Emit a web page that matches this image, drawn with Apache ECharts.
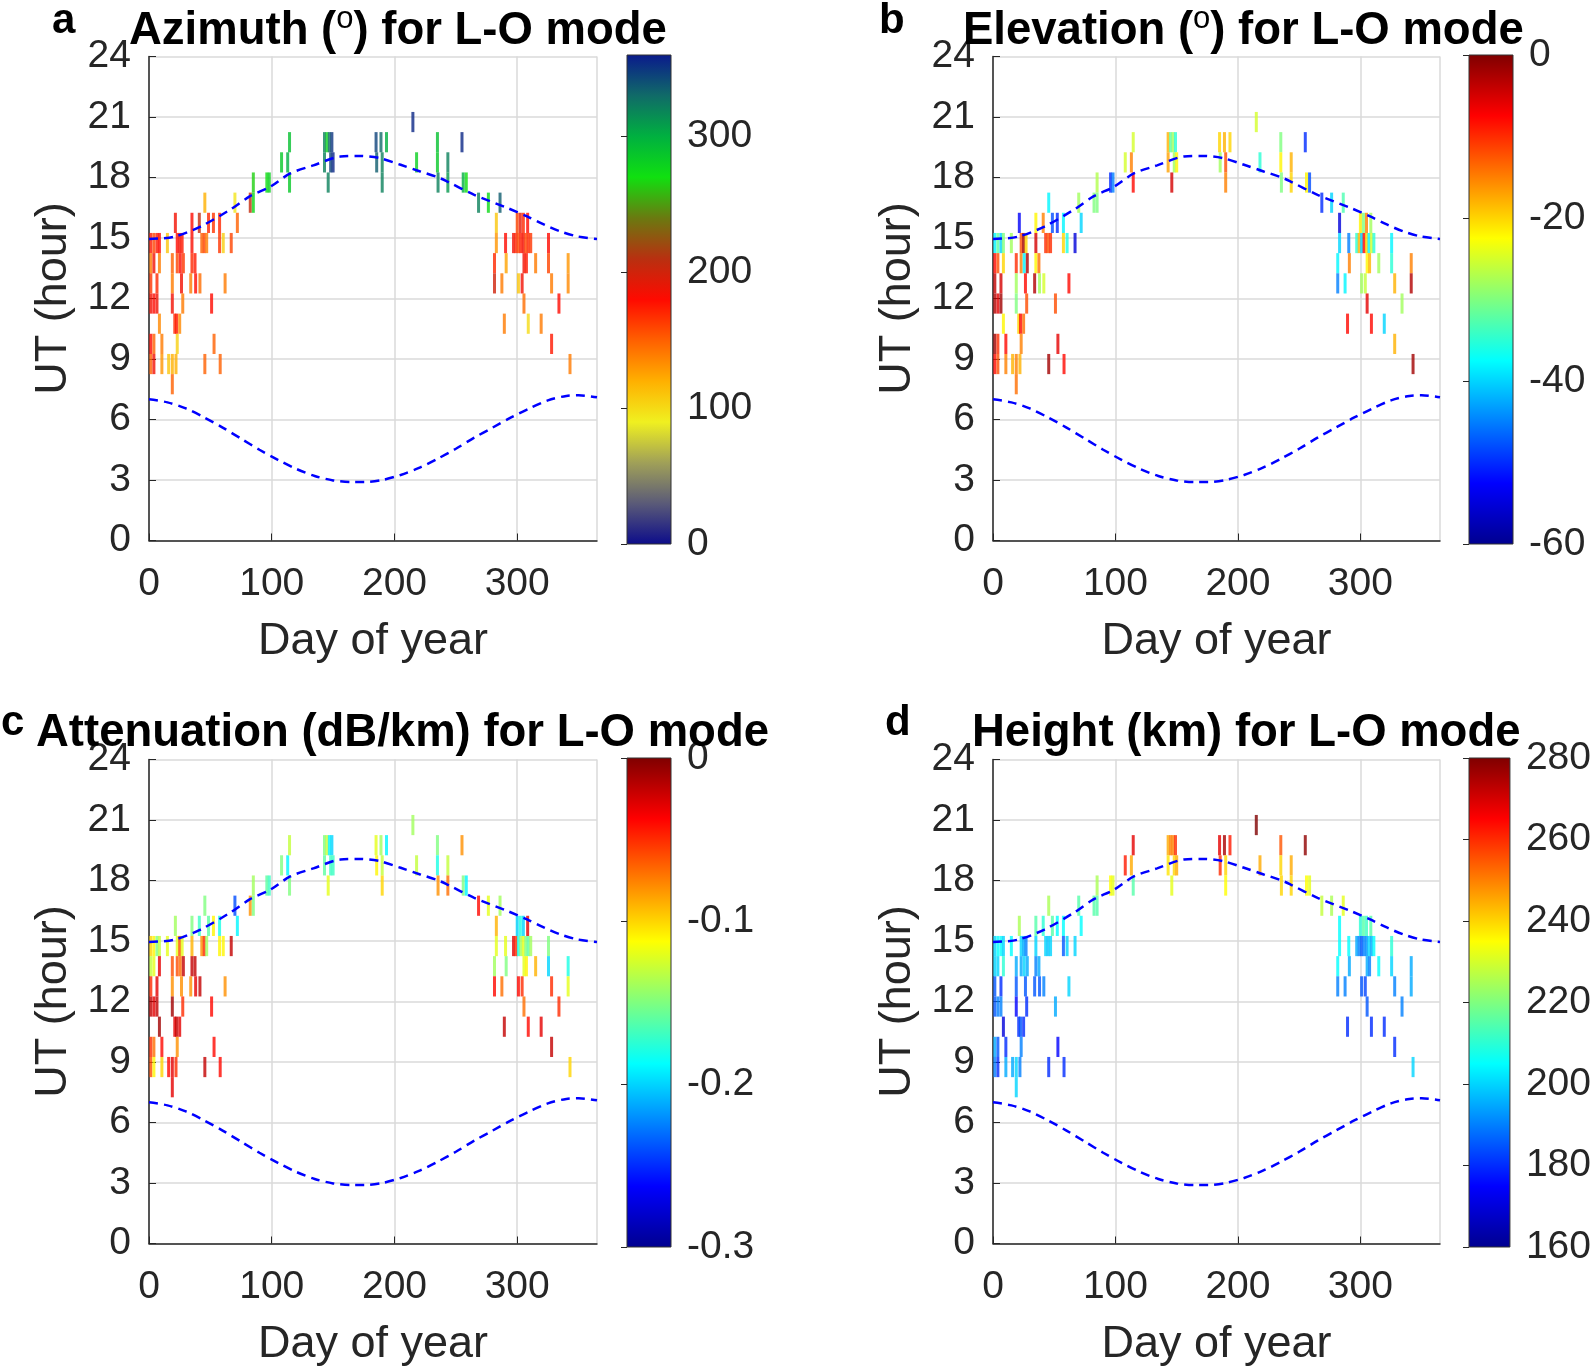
<!DOCTYPE html>
<html><head><meta charset="utf-8">
<script src="https://cdn.jsdelivr.net/npm/echarts/dist/echarts.min.js"></script>
<style>html,body{margin:0;padding:0;background:#fff}#c{width:1594px;height:1370px}</style>
</head><body><div id="c"></div>
<script>
// ---------- data ----------
const xTickValues = [0, 100, 200, 300];
const yTickValues = [0, 3, 6, 9, 12, 15, 18, 21, 24];
// observation cells: day of year and UT hour (cell centre)
const obsDay = [1.5,1.5,1.5,1.5,1.5,1.5, 4,4,4,4,4, 6.5,6.5,6.5, 8.5,8.5,8.5, 10.5,10.5, 15,16,
  19,19,19,19,19, 21,22.5,23,22, 21.5, 23,25,27, 23,25.5,28, 26.5, 27.5, 25,
  35,35,35,34, 37.5,38, 41,41.5, 43,45,47, 45.5,48.5,45.5, 51,52.5,53, 57.5,57.5,58, 60.5,62,67,70,72,
  82.5,85,85,96,98, 108,113,114.5,114.5,
  143,145,147,149,143,148,150,146,
  185,189,193.5,185.5,190,190, 215,218, 235,235,235.5, 243.5,243.5, 255,256,258.5,
  268.5,276.5,286, 283,283,281.5,281.5,287.5,289.5,290.5,291,
  297,299,301,303,305,307,309,311, 300,302.5,305,308.5, 305.5,307.5, 301,304, 305.5, 309,
  315,319.5,325.5,325.5,328,328,334,341.5,341.5,343];
const obsHour = [14.75,13.75,12.75,11.75,9.75,8.75, 14.75,13.75,11.75,9.75,8.75, 14.75,12.75,11.75, 14.75,13.75,10.75, 9.75,8.75, 14.75,8.75,
  13.75,12.75,11.75,8.75,7.75, 10.75,10.75,9.75,8.75, 15.75, 14.75,14.75,14.75, 13.75,13.75,13.75, 12.75, 11.75, 10.75,
  15.75,14.75,13.75,12.75, 13.75,12.75, 15.75,12.75, 14.75,14.75,14.75, 16.75,15.75,8.75, 11.75,15.75,9.75, 15.75,14.75,8.75, 14.75,12.75,14.75,16.75,15.75,
  16.75,17.75,16.75,17.75,17.75, 18.75,18.75,19.75,17.75,
  19.75,19.75,19.75,19.75,18.75,18.75,18.75,17.75,
  19.75,19.75,19.75,18.75,18.75,17.75, 20.75,18.75, 19.75,18.75,17.75, 18.75,17.75, 19.75,17.75,17.75,
  16.75,16.75,16.75, 15.75,14.75,13.75,12.75,12.75,10.75,14.75,13.75,
  14.75,14.75,14.75,14.75,14.75,14.75,14.75,14.75, 15.75,15.75,15.75,15.75, 13.75,13.75, 12.75,12.75, 11.75, 10.75,
  13.75,10.75,14.75,13.75,12.75,9.75,11.75,13.75,12.75,8.75];
const azimuth = [175,140,165,185,180,150, 160,185,180,150,185, 175,170,185, 180,140,135, 140,130, 110,110,
  150,140,185,120,150, 170,175,105,120, 185, 180,185,175, 160,180,165, 185, 140, 135,
  180,182,170,140, 175,180, 205,145, 150,160,140, 120,170,150, 180,165,150, 170,165,150, 105,140,160,95,150,
  205,265,275,272,280, 285,300,290,285,
  320,280,330,350,320,345,355,320,
  345,330,300,335,320,320, 355,280, 290,285,320, 320,310, 355,300,270,
  320,275,335, 110,130,170,200,140,140,180,125,
  185,170,160,175,185,160,170,165, 160,190,170,180, 185,175, 110,185, 145, 100,
  140,140,180,160,140,175,180,130,135,140];
const elevation = [-38,-8,-4,-3,-2,-8, -32,-12,-6,-10,-12, -40,-5,-2, -30,-20,-22, -8,-15, -28,-18,
  -10,-28,-30,-15,-14, -20,-8,-15,-18, -53, -12,-2,-20, -15,-38,-3, -8, -12, -14,
  -22,-5,-22,-3, -14,-28, -15,-25, -10,-12,-10, -38,-48,-2, -12,-50,-6, -38,-20,-8, -36,-8,-55,-28,-40,
  -30,-27,-30,-50,-45, -25,-15,-25,-8,
  -18,-32,-28,-35,-17,-28,-22,-5,
  -20,-18,-20,-28,-12,-15, -25,-35, -30,-22,-30, -18,-20, -50,-22,-48,
  -50,-40,-33, -55,-40,-38,-45,-38,-8,-45,-15,
  -35,-18,-40,-8,-20,-38,-25,-35, -22,-30,-15,-28, -22,-18, -28,-26, -6, -8,
  -28,-40,-38,-35,-18,-18,-28,-15,-3,-2];
const attenuation = [-0.10,-0.13,-0.05,-0.02,-0.05,-0.06, -0.11,-0.12,-0.03,-0.07,-0.11, -0.15,-0.03,-0.02, -0.13,-0.03,-0.01, -0.04,-0.10, -0.12,-0.04,
  -0.06,-0.08,-0.01,-0.03,-0.03, -0.03,-0.02,-0.08,-0.05, -0.14, -0.12,-0.06,-0.12, -0.06,-0.07,-0.02, -0.08, -0.05, -0.03,
  -0.15,-0.09,-0.02,-0.08, -0.02,-0.03, -0.17,-0.02, -0.08,-0.05,-0.14, -0.15,-0.16,-0.02, -0.04,-0.11,-0.04, -0.18,-0.11,-0.04, -0.11,-0.08,-0.02,-0.24,-0.19,
  -0.08,-0.14,-0.15,-0.16,-0.17, -0.15,-0.19,-0.13,-0.15,
  -0.15,-0.13,-0.19,-0.20,-0.16,-0.17,-0.17,-0.12,
  -0.12,-0.14,-0.19,-0.11,-0.13,-0.10, -0.14,-0.13, -0.15,-0.18,-0.08, -0.13,-0.07, -0.08,-0.15,-0.19,
  -0.04,-0.12,-0.14, -0.09,-0.12,-0.14,-0.04,-0.07,-0.02,-0.12,-0.15,
  -0.03,-0.05,-0.18,-0.14,-0.12,-0.15,-0.16,-0.14, -0.20,-0.18,-0.20,-0.03, -0.12,-0.11, -0.04,-0.05, -0.07, -0.04,
  -0.09,-0.03,-0.15,-0.20,-0.05,-0.02,-0.05,-0.18,-0.12,-0.10];
const heightKm = [200,200,185,185,195,190, 205,200,190,185,180, 205,180,190, 200,210,170, 180,195, 205,195,
  195,185,175,200,200, 180,185,190,190, 225, 200,195,190, 195,200,195, 185, 180, 180,
  215,200,190,185, 195,185, 210,190, 200,198,200, 225,215,180, 195,205,175, 205,185,180, 200,200,200,215,205,
  215,225,215,235,232, 262,245,268,215,
  245,250,250,260,238,240,245,232,
  268,275,262,260,240,235, 280,245, 255,240,240, 245,240, 278,235,232,
  228,225,232, 205,205,205,190,190,180,205,195,
  195,190,185,190,192,200,195,205, 210,215,212,215, 195,190, 185,183, 185, 180,
  205,180,210,200,190,180,190,195,195,200];
// dashed boundary curves (hour vs day of year)
const upperCurveDay  = [0, 20, 42, 66, 82, 99, 115, 134, 156, 172, 188, 205, 221, 235, 243, 265, 292, 308, 322, 335, 349, 365];
const upperCurveHour = [14.95, 15.06, 15.57, 16.4, 17.06, 17.55, 18.2, 18.6, 19.04, 19.07, 18.96, 18.63, 18.3, 18.02, 17.8, 17.14, 16.49, 16.07, 15.66, 15.33, 15.08, 14.95];
const lowerCurveDay  = [0, 15, 30, 45, 60, 75, 90, 105, 120, 135, 150, 165, 175, 190, 205, 220, 235, 250, 265, 280, 295, 310, 325, 340, 350, 365];
const lowerCurveHour = [7.0, 6.85, 6.55, 6.1, 5.6, 5.05, 4.5, 4.0, 3.55, 3.2, 2.98, 2.9, 2.9, 3.0, 3.25, 3.6, 4.05, 4.55, 5.1, 5.6, 6.1, 6.55, 6.95, 7.17, 7.2, 7.1];
// colour-bar ranges [min, max, interval]
const cbRange = [[0, 360, 100], [-60, 0, 20], [-0.3, 0, 0.1], [160, 280, 20]];
const panelTitles = [['Azimuth (', ') for L-O mode'], ['Elevation (', ') for L-O mode'], ['Attenuation (dB/km) for L-O mode'], ['Height (km) for L-O mode']];
const panelLetters = ['a', 'b', 'c', 'd'];

// ---------- styling ----------
const FONT = '"Liberation Sans", Arial, Helvetica, sans-serif';
const TXT = '#262626';
const jet = ['#00008f', '#0000ff', '#007fff', '#00ffff', '#7fff7f', '#ffff00', '#ff7f00', '#ff0000', '#7f0000'];
const azMap = ['#0c0c8a', '#5a5a78', '#a0a058', '#f0f020', '#ffb000', '#ff6000', '#ff0a00', '#b83010', '#6a7a10', '#10e010', '#00b040', '#106a68', '#0a1a8c'];
const cmaps = [azMap, jet, jet, jet];
const values = [azimuth, elevation, attenuation, heightKm];
const P = [
  {L: 149, T: 56.5, W: 448, H: 484, cbL: 627, cbT: 55, cbH: 489, titleX: 129, titleY: 31, letX: 52, letY: 21, cbMax: false},
  {L: 993, T: 56.5, W: 447, H: 484, cbL: 1469, cbT: 55, cbH: 489, titleX: 963, titleY: 31, letX: 879, letY: 21, cbMax: true},
  {L: 149, T: 759.5, W: 448, H: 484, cbL: 627, cbT: 758, cbH: 489, titleX: 36, titleY: 733, letX: 1, letY: 723, cbMax: true},
  {L: 993, T: 759.5, W: 447, H: 484, cbL: 1469, cbT: 758, cbH: 489, titleX: 972, titleY: 733, letX: 885, letY: 723, cbMax: true}
];

const grids = [], xAxes = [], yAxes = [], series = [], visualMaps = [], graphics = [];
const axLabel = {fontSize: 39, color: TXT, fontFamily: FONT};
P.forEach((p, i) => {
  const cmap = cmaps[i];
  const grad = new echarts.graphic.LinearGradient(0, 1, 0, 0, cmap.map((c, k) => ({offset: k / (cmap.length - 1), color: c})));
  grids.push({left: p.L, top: p.T, width: p.W, height: p.H, show: false});
  grids.push({left: p.cbL, top: p.cbT, width: 44, height: p.cbH, show: true, backgroundColor: grad, borderColor: '#333', borderWidth: 1});
  xAxes.push({gridIndex: 2 * i, type: 'value', min: 0, max: 365, interval: 100,
    axisLine: {show: true, onZero: false, lineStyle: {color: TXT, width: 1.5}},
    axisTick: {show: true, inside: true, length: 7, lineStyle: {color: TXT}},
    axisLabel: Object.assign({margin: 24, showMaxLabel: false}, axLabel),
    splitLine: {show: true, lineStyle: {color: '#dadada', width: 1.5}}});
  yAxes.push({gridIndex: 2 * i, type: 'value', min: 0, max: 24, interval: 3,
    axisLine: {show: true, onZero: false, lineStyle: {color: TXT, width: 1.5}},
    axisTick: {show: true, inside: true, length: 7, lineStyle: {color: TXT}},
    axisLabel: Object.assign({margin: 18}, axLabel),
    splitLine: {show: true, lineStyle: {color: '#dadada', width: 1.5}}});
  xAxes.push({gridIndex: 2 * i + 1, type: 'value', min: 0, max: 1, show: false});
  yAxes.push({gridIndex: 2 * i + 1, type: 'value', position: 'right', min: cbRange[i][0], max: cbRange[i][1], interval: cbRange[i][2],
    axisLine: {show: false}, splitLine: {show: false},
    axisTick: {show: true, inside: true, length: 6, lineStyle: {color: TXT}},
    axisLabel: Object.assign({margin: 16, showMaxLabel: p.cbMax}, axLabel)});
  series.push({type: 'scatter', xAxisIndex: 2 * i, yAxisIndex: 2 * i, symbol: 'rect', symbolSize: [3, 20.2], silent: true, z: 2,
    itemStyle: {opacity: 0.8},
    data: obsDay.map((d, k) => [d, obsHour[k], values[i][k]])});
  visualMaps.push({type: 'continuous', show: false, seriesIndex: series.length - 1, dimension: 2,
    min: cbRange[i][0], max: cbRange[i][1], inRange: {color: cmap}});
  const dash = {color: '#0000ff', width: 2.5, type: [9, 6]};
  series.push({type: 'line', xAxisIndex: 2 * i, yAxisIndex: 2 * i, showSymbol: false, smooth: 0.3, silent: true, z: 5,
    lineStyle: dash, data: upperCurveDay.map((d, k) => [d, upperCurveHour[k]])});
  series.push({type: 'line', xAxisIndex: 2 * i, yAxisIndex: 2 * i, showSymbol: false, smooth: 0.3, silent: true, z: 5,
    lineStyle: dash, data: lowerCurveDay.map((d, k) => [d, lowerCurveHour[k]])});
  // texts
  const t = panelTitles[i];
  const titleText = t.length === 2 ? '{t|' + t[0] + '}{s|o}{t|' + t[1] + '}' : '{t|' + t[0] + '}';
  graphics.push({type: 'text', x: p.titleX, y: p.titleY, z: 10, style: {text: titleText, verticalAlign: 'middle', align: 'left',
    rich: {t: {fontSize: 45.5, fontWeight: 'bold', fontFamily: FONT, fill: '#000', lineHeight: 54},
           s: {fontSize: 31, fontFamily: FONT, fill: '#000', lineHeight: 26, verticalAlign: 'top'}}}});
  graphics.push({type: 'text', x: p.letX, y: p.letY, z: 10, style: {text: panelLetters[i], font: 'bold 42px ' + FONT, fill: '#000', verticalAlign: 'middle', align: 'left'}});
  graphics.push({type: 'text', x: p.L + p.W / 2, y: p.T + p.H + 101, style: {text: 'Day of year', font: '45px ' + FONT, fill: TXT, align: 'center', verticalAlign: 'middle'}});
  graphics.push({type: 'text', x: p.L - 95, y: p.T + p.H / 2, rotation: Math.PI / 2, style: {text: 'UT (hour)', font: '45px ' + FONT, fill: TXT, align: 'center', verticalAlign: 'middle'}});
});

const chart = echarts.init(document.getElementById('c'), null, {renderer: 'canvas'});
chart.setOption({animation: false, backgroundColor: '#fff', grid: grids, xAxis: xAxes, yAxis: yAxes,
  visualMap: visualMaps, series: series, graphic: graphics});
</script></body></html>
